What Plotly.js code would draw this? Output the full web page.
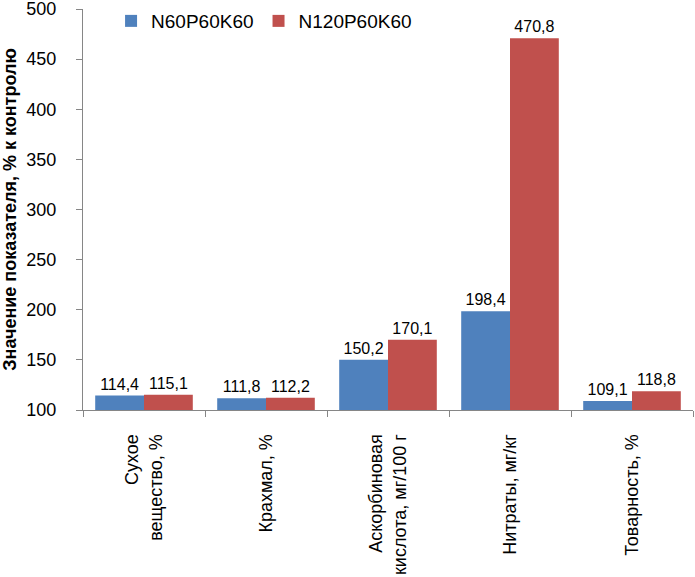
<!DOCTYPE html>
<html><head><meta charset="utf-8">
<script src="https://cdn.plot.ly/plotly-3.0.1.min.js"></script>
<style>body{margin:0;background:#fff}#c{width:695px;height:577px}</style>
</head><body><div id="c"></div>
<script>
var categories = ["Сухое<br>вещество, %", "Крахмал, %", "Аскорбиновая<br>кислота, мг/100 г", "Нитраты, мг/кг", "Товарность, %"];
var seriesNames = ["N60P60K60", "N120P60K60"];
var n60 = [114.4, 111.8, 150.2, 198.4, 109.1];
var n120 = [115.1, 112.2, 170.1, 470.8, 118.8];
var colors = ["#4F81BD", "#C0504D"];
function fmt(v){return v.toFixed(1).replace('.', ',');}
var font = "Liberation Sans, Arial, sans-serif";
var traces = [n60, n120].map(function(vals, i){
  return {type:"bar", name:seriesNames[i], x:categories, y:vals,
    marker:{color:colors[i]}, text:vals.map(fmt), textposition:"outside",
    textfont:{size:16, color:"#000", family:font}, cliponaxis:false, hoverinfo:"none"};
});
var layout = {
  width:695, height:577, paper_bgcolor:"#fff", plot_bgcolor:"#fff",
  margin:{l:83, r:2, t:9, b:167},
  barmode:"group", bargap:0.2, bargroupgap:0,
  font:{family:font, size:18, color:"#000"},
  showlegend:true,
  legend:{orientation:"h", x:0.046, y:0.97, yanchor:"middle", xanchor:"left", font:{size:19}, itemwidth:30,
    bgcolor:"rgba(0,0,0,0)", traceorder:"normal"},
  xaxis:{showline:true, linecolor:"#868686", ticks:"outside", tickson:"boundaries", ticklen:6, tickcolor:"#868686",
    tickangle:-90, tickfont:{size:18}, ticklabelstandoff:16, showgrid:false, fixedrange:true, automargin:false},
  yaxis:{range:[100,500], dtick:50, showline:true, linecolor:"#868686", ticks:"outside", ticklen:6, tickcolor:"#868686",
    showgrid:false, zeroline:false, tickfont:{size:18}, ticklabelstandoff:16, ticklabeloverflow:"allow", automargin:false,
    title:{text:"<b>Значение показателя, % к контролю</b>", font:{size:18}, standoff:12}}
};
Plotly.newPlot("c", traces, layout, {displayModeBar:false, staticPlot:true});
</script></body></html>
